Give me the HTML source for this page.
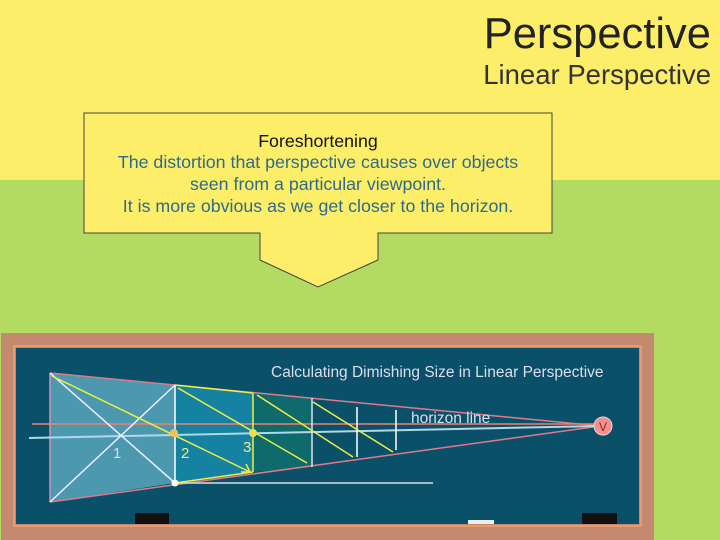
<!DOCTYPE html>
<html><head><style>
body{margin:0;width:720px;height:540px;overflow:hidden;font-family:"Liberation Sans",sans-serif}
</style></head><body>
<svg width="720" height="540" xmlns="http://www.w3.org/2000/svg" style="display:block">
<rect x="0" y="0" width="720" height="180" fill="#fdee6a"/>
<rect x="0" y="180" width="720" height="360" fill="#b3db62"/>
<text x="711" y="48" text-anchor="end" font-size="43.5" fill="#222">Perspective</text>
<text x="711" y="84" text-anchor="end" font-size="27.5" fill="#333">Linear Perspective</text>
<path d="M84,113 H552 V233 H378 V260 L318,287 L260,260 V233 H84 Z" fill="#fdee6a" stroke="#444" stroke-width="1"/>
<text x="318" y="147" text-anchor="middle" font-size="17.8" fill="#111">Foreshortening</text>
<text x="318" y="168" text-anchor="middle" font-size="17.8" fill="#2e6a8a">The distortion that perspective causes over objects</text>
<text x="318" y="190" text-anchor="middle" font-size="17.8" fill="#2e6a8a">seen from a particular viewpoint.</text>
<text x="318" y="212" text-anchor="middle" font-size="17.8" fill="#2e6a8a">It is more obvious as we get closer to the horizon.</text>
<rect x="1" y="333" width="653" height="207" fill="#c38a70"/>
<rect x="14" y="346" width="627" height="180" fill="none" stroke="#e89a6a" stroke-width="2"/>
<rect x="16" y="348" width="623" height="176" fill="#0a5068"/>
<rect x="135" y="513" width="34" height="11" fill="#111"/>
<rect x="582" y="513" width="35" height="11" fill="#111"/>
<rect x="468" y="520" width="26" height="4" fill="#eee"/>
<text x="271" y="377" font-size="15.5" fill="#dde">Calculating Dimishing Size in Linear Perspective</text>
<polygon points="50,373 175,385 175,483 50,502" fill="#4c98ae"/>
<polygon points="175,385 253,393 253,472 175,483" fill="#1482a0"/>
<polygon points="253,393 312,398 312,467 253,472" fill="#0f6a6c"/>
<line x1="50" y1="373" x2="600" y2="426" stroke="#e07a8a" stroke-width="1.5"/>
<line x1="50" y1="502" x2="600" y2="426" stroke="#e07a8a" stroke-width="1.5"/>
<line x1="50" y1="373" x2="50" y2="502" stroke="#d090c0" stroke-width="1.5"/>
<line x1="32" y1="424" x2="600" y2="424" stroke="#f08070" stroke-width="1.5"/>
<line x1="29" y1="438" x2="600" y2="426" stroke="#b0d8e8" stroke-width="2"/>
<line x1="175" y1="483" x2="433" y2="483" stroke="#ddd" stroke-width="1.5"/>
<line x1="50" y1="373" x2="175" y2="483" stroke="#eef" stroke-width="1.5"/>
<line x1="50" y1="502" x2="175" y2="385" stroke="#eef" stroke-width="1.5"/>
<line x1="175" y1="385" x2="175" y2="483" stroke="#fff" stroke-width="1.5"/>
<line x1="253" y1="393" x2="253" y2="472" stroke="#ee4" stroke-width="1.5"/>
<line x1="312" y1="398" x2="312" y2="467" stroke="#dde" stroke-width="1.5"/>
<line x1="357" y1="407" x2="357" y2="457" stroke="#fff" stroke-width="1.5"/>
<line x1="396" y1="410" x2="396" y2="450" stroke="#fff" stroke-width="1.5"/>
<line x1="175" y1="385" x2="253" y2="393" stroke="#ee4" stroke-width="1.5"/>
<line x1="175" y1="483" x2="253" y2="472" stroke="#ee4" stroke-width="1.5"/>
<line x1="52" y1="376" x2="250" y2="472" stroke="#ee4" stroke-width="1.5"/>
<path d="M246,464 L250,472 L241,472" fill="none" stroke="#ee4" stroke-width="1.5"/>
<line x1="178" y1="388" x2="307" y2="463" stroke="#ee4" stroke-width="1.5"/>
<line x1="257" y1="395" x2="353" y2="457" stroke="#ee4" stroke-width="1.5"/>
<line x1="313" y1="402" x2="393" y2="452" stroke="#ee4" stroke-width="1.5"/>
<circle cx="174" cy="433" r="4" fill="#f0c050"/>
<circle cx="253" cy="433" r="4" fill="#f0e050"/>
<circle cx="175" cy="483" r="3.5" fill="#fff"/>
<ellipse cx="603" cy="426" rx="9" ry="9" fill="#f09090" stroke="#fcc" stroke-width="1"/>
<text x="603" y="431" text-anchor="middle" font-size="12" fill="#a02020">V</text>
<text x="113" y="458" font-size="15" fill="#dde">1</text>
<text x="181" y="458" font-size="15" fill="#ee8">2</text>
<text x="243" y="452" font-size="15" fill="#ee8">3</text>
<text x="411" y="423" font-size="15.5" fill="#dde">horizon line</text>
</svg>
</body></html>
